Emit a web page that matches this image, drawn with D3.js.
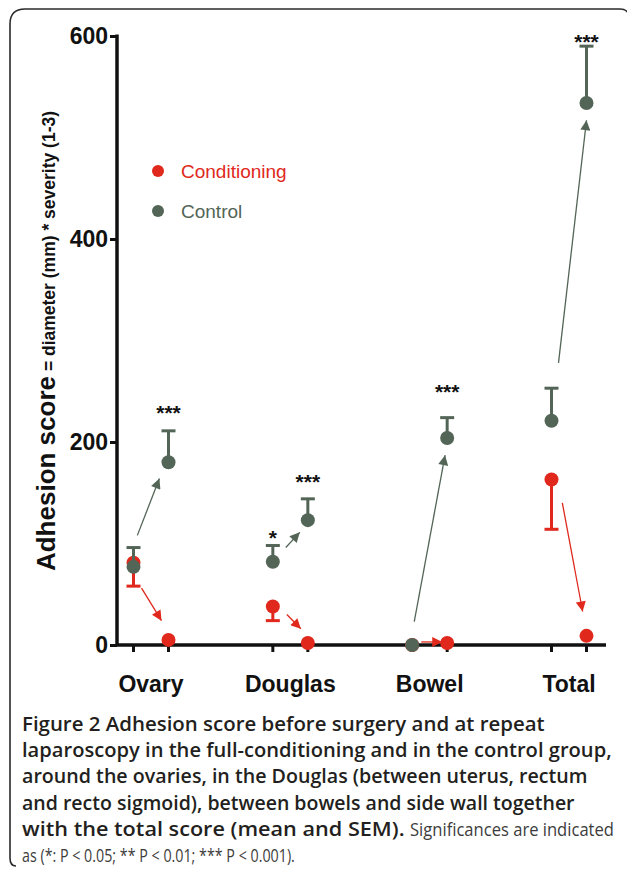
<!DOCTYPE html>
<html><head><meta charset="utf-8">
<script src="https://cdn.jsdelivr.net/npm/d3@7"></script>
<style>
html,body{margin:0;padding:0;background:#fff;}
svg{display:block;}
</style></head>
<body>
<svg id="chart" width="627" height="874"></svg>
<script>
// ---- data ----
const categories = ["Ovary", "Douglas", "Bowel", "Total"];
const phases = ["before", "after"];
const condBefore = [81, 38, 0, 163];
const condBeforeSem = [23, 14, 0, 49];
const condAfter = [5, 2, 2, 9];
const condAfterSem = [0, 0, 0, 0];
const ctrlBefore = [77, 82, 0, 221];
const ctrlBeforeSem = [19, 16, 0, 32];
const ctrlAfter = [180, 123, 204, 534];
const ctrlAfterSem = [31, 21, 20, 56];
const yTicks = [0, 200, 400, 600];
// significance labels: category, phase, text, y value where drawn
const sigCat = ["Ovary", "Douglas", "Douglas", "Bowel", "Total"];
const sigPhase = ["after", "before", "after", "after", "after"];
const sigText = ["***", "*", "***", "***", "***"];
const sigY = [235, 112, 167, 256, 601];
// arrows: category, series, from (fraction between before/after, value), to
const arrCat = ["Ovary", "Ovary", "Douglas", "Douglas", "Bowel", "Bowel", "Total", "Total"];
const arrSeries = ["Control", "Conditioning", "Control", "Conditioning", "Control", "Conditioning", "Control", "Conditioning"];
const arrFromF = [0.11, 0.23, 0.37, 0.40, 0.06, 0.26, 0.20, 0.31];
const arrFromV = [108, 56, 96, 30, 23, 3, 278, 140];
const arrToF = [0.74, 0.80, 0.77, 0.80, 0.94, 0.86, 1.0, 0.89];
const arrToV = [164, 24, 111, 16, 187, 3, 517, 33];
const seriesNames = ["Conditioning", "Control"];

// ---- style ----
const RED = "#e0281c", GREEN = "#536556";
const color = d3.scaleOrdinal(seriesNames, [RED, GREEN]);
const svg = d3.select("#chart");

// frame
svg.append("path")
  .attr("d", "M16 866 Q10 866 10 858 L10 24 Q10 9 25 9 L620 9 Q626 9 628 13")
  .attr("fill", "none").attr("stroke", "#2a2a2a").attr("stroke-width", 1.6);

// scales
const y = d3.scaleLinear().domain([0, 600]).range([645, 36]);
const gx = d3.scalePoint().domain(categories).range([151, 569]);
const px = d3.scalePoint().domain(phases).range([-17.5, 17.5]);
const fx = d3.scaleLinear().domain([0, 1]).range([-17.5, 17.5]);
const X = (c, p) => gx(c) + px(p);

// y axis
const yAxis = svg.append("g").attr("transform", "translate(117,0)")
  .call(d3.axisLeft(y).tickValues(yTicks).tickSize(7).tickPadding(2).tickSizeOuter(0));
yAxis.select(".domain").attr("stroke", "#111").attr("stroke-width", 3.5)
  .attr("d", `M0,${y(600) - 1.5}V${y(0)}`);
yAxis.selectAll(".tick line").attr("stroke", "#111").attr("stroke-width", 3);
yAxis.selectAll(".tick text").attr("fill", "#111")
  .style("font-family", "'Liberation Sans', Arial, sans-serif")
  .style("font-size", "23px").style("font-weight", "bold");

// x axis line
svg.append("line").attr("x1", 117).attr("x2", 606).attr("y1", y(0)).attr("y2", y(0))
  .attr("stroke", "#111").attr("stroke-width", 3.5);
const tickPos = [];
categories.forEach(c => phases.forEach(p => tickPos.push(X(c, p))));
svg.selectAll(".xt").data(tickPos).enter().append("line")
  .attr("x1", d => d).attr("x2", d => d).attr("y1", y(0)).attr("y2", y(0) + 7)
  .attr("stroke", "#111").attr("stroke-width", 3);
svg.selectAll(".xl").data(categories).enter().append("text")
  .attr("x", d => gx(d)).attr("y", 692).attr("text-anchor", "middle")
  .style("font-family", "'Liberation Sans', Arial, sans-serif")
  .style("font-size", "23px").style("font-weight", "bold").attr("fill", "#111")
  .text(d => d);

// y label
const yl = svg.append("text").attr("transform", "translate(55,341) rotate(-90)")
  .attr("text-anchor", "middle").attr("fill", "#111")
  .style("font-family", "'Liberation Sans', Arial, sans-serif").style("font-weight", "bold");
yl.append("tspan").style("font-size", "26px").text("Adhesion score");
yl.append("tspan").style("font-size", "17.5px").text(" = diameter (mm) * severity (1-3)");

// arrows
const defs = svg.append("defs");
seriesNames.forEach(s => {
  defs.append("marker").attr("id", "ah-" + s).attr("viewBox", "0 0 10 10")
    .attr("refX", 10).attr("refY", 5).attr("markerUnits", "userSpaceOnUse")
    .attr("markerWidth", 13).attr("markerHeight", 10).attr("orient", "auto")
    .append("path").attr("d", "M0,0L10,5L0,10Z").attr("fill", color(s));
});
const arrows = arrCat.map((c, i) => ({c, s: arrSeries[i], f0: arrFromF[i], v0: arrFromV[i], f1: arrToF[i], v1: arrToV[i]}));
svg.selectAll(".arr").data(arrows).enter().append("line")
  .attr("x1", d => gx(d.c) + fx(d.f0)).attr("y1", d => y(d.v0))
  .attr("x2", d => gx(d.c) + fx(d.f1)).attr("y2", d => y(d.v1))
  .attr("stroke", d => color(d.s)).attr("stroke-width", 1.3)
  .attr("marker-end", d => `url(#ah-${d.s})`);

// points with error bars
function series(name, before, beforeSem, after, afterSem, dir) {
  const pts = [];
  categories.forEach((c, i) => {
    pts.push({c, p: "before", v: before[i], e: beforeSem[i]});
    pts.push({c, p: "after", v: after[i], e: afterSem[i]});
  });
  const g = svg.append("g");
  const eb = pts.filter(d => d.e > 0);
  g.selectAll(".eb").data(eb).enter().append("line")
    .attr("x1", d => X(d.c, d.p)).attr("x2", d => X(d.c, d.p))
    .attr("y1", d => y(d.v)).attr("y2", d => y(d.v + dir * d.e))
    .attr("stroke", color(name)).attr("stroke-width", 3);
  g.selectAll(".cap").data(eb).enter().append("line")
    .attr("x1", d => X(d.c, d.p) - 7).attr("x2", d => X(d.c, d.p) + 7)
    .attr("y1", d => y(d.v + dir * d.e)).attr("y2", d => y(d.v + dir * d.e))
    .attr("stroke", color(name)).attr("stroke-width", 3);
  g.selectAll("circle").data(pts).enter().append("circle")
    .attr("cx", d => X(d.c, d.p)).attr("cy", d => y(d.v)).attr("r", 7)
    .attr("fill", color(name));
}
series("Conditioning", condBefore, condBeforeSem, condAfter, condAfterSem, -1);
series("Control", ctrlBefore, ctrlBeforeSem, ctrlAfter, ctrlAfterSem, 1);

// significance
svg.selectAll(".sig").data(sigText.map((t, i) => ({t, c: sigCat[i], p: sigPhase[i], v: sigY[i]})))
  .enter().append("text")
  .attr("x", d => X(d.c, d.p)).attr("y", d => y(d.v) + 14).attr("text-anchor", "middle")
  .style("font-family", "'Liberation Sans', Arial, sans-serif").style("font-size", "21px")
  .style("font-weight", "bold").attr("fill", "#111").text(d => d.t);

// legend
const lg = svg.append("g");
seriesNames.forEach((s, i) => {
  lg.append("circle").attr("cx", 158).attr("cy", 171 + i * 40).attr("r", 6).attr("fill", color(s));
  lg.append("text").attr("x", 181).attr("y", 171 + i * 40).attr("dy", "0.35em")
    .style("font-family", "'Liberation Sans', Arial, sans-serif").style("font-size", "19px")
    .attr("fill", color(s)).text(s);
});

// caption: each piece [text, bold, startX, width]
const capLines = [
  [["Figure 2 Adhesion score before surgery and at repeat", true, 22, 523]],
  [["laparoscopy in the full-conditioning and in the control group,", true, 22, 590]],
  [["around the ovaries, in the Douglas (between uterus, rectum", true, 22, 566]],
  [["and recto sigmoid), between bowels and side wall together", true, 22, 553]],
  [["with the total score (mean and SEM).", true, 22, 383], ["Significances are indicated", false, 410, 204]],
  [["as (*: P < 0.05; ** P < 0.01; *** P < 0.001).", false, 22, 273]]
];
capLines.forEach((line, i) => {
  const by = 731 + i * 26.2;
  line.forEach(([s, b, x0, w]) => {
    const t = svg.append("text")
      .style("font-family", "'Open Sans', 'Noto Sans', sans-serif")
      .style("font-size", "19px")
      .style("font-weight", b ? 600 : 400)
      .attr("fill", b ? "#231f20" : "#3c3c3c")
      .text(s);
    const nat = t.node().getComputedTextLength();
    const sx = w / nat;
    t.attr("transform", `translate(${x0},${by}) scale(${sx},1)`);
  });
});
</script>
</body></html>
